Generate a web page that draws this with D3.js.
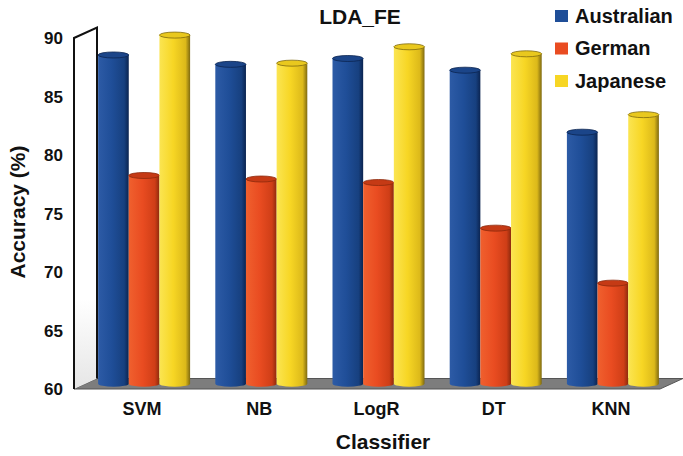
<!DOCTYPE html>
<html>
<head>
<meta charset="utf-8">
<script src="https://cdn.jsdelivr.net/npm/d3@7"></script>
<style>
  body { margin: 0; background: #fff; }
  text { font-family: "Liberation Sans", Arial, sans-serif; font-weight: bold; fill: #111; }
</style>
</head>
<body>
<script>
var w = 683;
var h = 456;

// data
var categories = ["SVM", "NB", "LogR", "DT", "KNN"];
var seriesNames = ["Australian", "German", "Japanese"];
var australian = [88.1, 87.3, 87.8, 86.8, 81.5];
var german = [77.8, 77.5, 77.2, 73.3, 68.6];
var japanese = [89.8, 87.4, 88.8, 88.2, 83.0];
var yTicks = [60, 65, 70, 75, 80, 85, 90];

var seriesValues = [australian, german, japanese];
var colors = {
    Australian: ["#2d5ba6", "#1f4e98", "#17407f", "#0b2450"],
    German:     ["#f0602e", "#e94c21", "#cf3e17", "#8d2a0d"],
    Japanese:   ["#fbe552", "#f7d624", "#dcb91a", "#7f6a10"]
};
var topColors = { Australian: "#1b4589", German: "#c53a15", Japanese: "#e9c81e" };

// 3d depth of the box
var depthX = 23;
var depthY = -10.5;

var x = d3.scaleBand().domain(categories).range([74, 660]);
var groupW = 92;
var x1 = d3.scaleBand().domain(seriesNames)
    .range([(x.bandwidth() - groupW) / 2, (x.bandwidth() + groupW) / 2]);
var y = d3.scaleLinear().domain([60, 90]).range([389, 38]);

var svg = d3.select("body").append("svg")
    .attr("width", w)
    .attr("height", h);

var defs = svg.append("defs");
seriesNames.forEach(function (s, i) {
    var g = defs.append("linearGradient")
        .attr("id", "grad" + i)
        .attr("x1", "0%").attr("x2", "100%")
        .attr("y1", "0%").attr("y2", "0%");
    var c = colors[s];
    g.append("stop").attr("offset", "0%").attr("stop-color", c[0]);
    g.append("stop").attr("offset", "45%").attr("stop-color", c[1]);
    g.append("stop").attr("offset", "85%").attr("stop-color", c[2]);
    g.append("stop").attr("offset", "100%").attr("stop-color", c[3]);
});
var wallGrad = defs.append("linearGradient")
    .attr("id", "wallGrad")
    .attr("x1", "0%").attr("x2", "0%").attr("y1", "0%").attr("y2", "100%");
wallGrad.append("stop").attr("offset", "75%").attr("stop-color", "#ffffff");
wallGrad.append("stop").attr("offset", "100%").attr("stop-color", "#e6e6e6");

var x0 = x.range()[0];
var xEnd = x.range()[1];
var yBase = y(60);
var yTop = y(90);

//----floor-----
svg.append("polygon")
    .attr("points", [[x0, yBase], [x0 + depthX, yBase + depthY], [xEnd + depthX, yBase + depthY], [xEnd, yBase]].join(" "))
    .attr("fill", "#7d7d7d")
    .attr("stroke", "#555")
    .attr("stroke-width", 1);

//----left wall-----
svg.append("polygon")
    .attr("points", [[x0, yTop], [x0 + depthX, yTop + depthY], [x0 + depthX, yBase + depthY], [x0, yBase]].join(" "))
    .attr("fill", "url(#wallGrad)")
    .attr("stroke", "none");
svg.append("path")
    .attr("d", "M" + x0 + "," + yBase + " L" + x0 + "," + yTop +
        " L" + (x0 + depthX) + "," + (yTop + depthY) +
        " L" + (x0 + depthX) + "," + (yBase + depthY))
    .attr("fill", "none")
    .attr("stroke", "#111")
    .attr("stroke-width", 2);

//----bars (cylinders)-----
var rx;
var ry = 3;
var bars = [];
categories.forEach(function (c, ci) {
    seriesNames.forEach(function (s, si) {
        bars.push({ cat: c, series: s, si: si, value: seriesValues[si][ci] });
    });
});

var barG = svg.append("g");
bars.forEach(function (d) {
    var left = x(d.cat) + x1(d.series) + depthX / 2;
    var bw = x1.bandwidth();
    rx = bw / 2;
    var cx = left + rx;
    var top = y(d.value) + depthY / 2;
    var bottom = yBase + depthY / 2;

    barG.append("path")
        .attr("d", "M" + left + "," + top +
            " L" + left + "," + bottom +
            " A" + rx + "," + ry + " 0 0 0 " + (left + bw) + "," + bottom +
            " L" + (left + bw) + "," + top + " Z")
        .attr("fill", "url(#grad" + d.si + ")");

    barG.append("ellipse")
        .attr("cx", cx)
        .attr("cy", top)
        .attr("rx", rx)
        .attr("ry", ry)
        .attr("fill", topColors[d.series])
        .attr("stroke", colors[d.series][3])
        .attr("stroke-width", 0.8);
});

//----y tick labels-----
svg.append("g").selectAll("text")
    .data(yTicks)
    .join("text")
    .attr("x", 63)
    .attr("y", function (d) { return y(d); })
    .attr("dy", "0.36em")
    .attr("text-anchor", "end")
    .attr("font-size", 17)
    .text(function (d) { return d; });

//----category labels-----
svg.append("g").selectAll("text")
    .data(categories)
    .join("text")
    .attr("x", function (d) { return x(d) + x.bandwidth() / 2 + depthX / 2 - 2; })
    .attr("y", 415)
    .attr("text-anchor", "middle")
    .attr("font-size", 18)
    .text(function (d) { return d; });

//----titles-----
svg.append("text")
    .attr("x", 360)
    .attr("y", 24)
    .attr("text-anchor", "middle")
    .attr("font-size", 21)
    .text("LDA_FE");

svg.append("text")
    .attr("x", 383)
    .attr("y", 449)
    .attr("text-anchor", "middle")
    .attr("font-size", 21)
    .text("Classifier");

svg.append("text")
    .attr("transform", "translate(25,212) rotate(-90)")
    .attr("text-anchor", "middle")
    .attr("font-size", 21)
    .text("Accuracy (%)");

//----legend-----
var legend = svg.append("g").selectAll("g")
    .data(seriesNames)
    .join("g")
    .attr("transform", function (d, i) { return "translate(555," + (10 + i * 32.5) + ")"; });
legend.append("rect")
    .attr("width", 13)
    .attr("height", 12)
    .attr("fill", function (d) { return colors[d][1]; });
legend.append("text")
    .attr("x", 20)
    .attr("y", 12.5)
    .attr("font-size", 20)
    .text(function (d) { return d; });
</script>
</body>
</html>
